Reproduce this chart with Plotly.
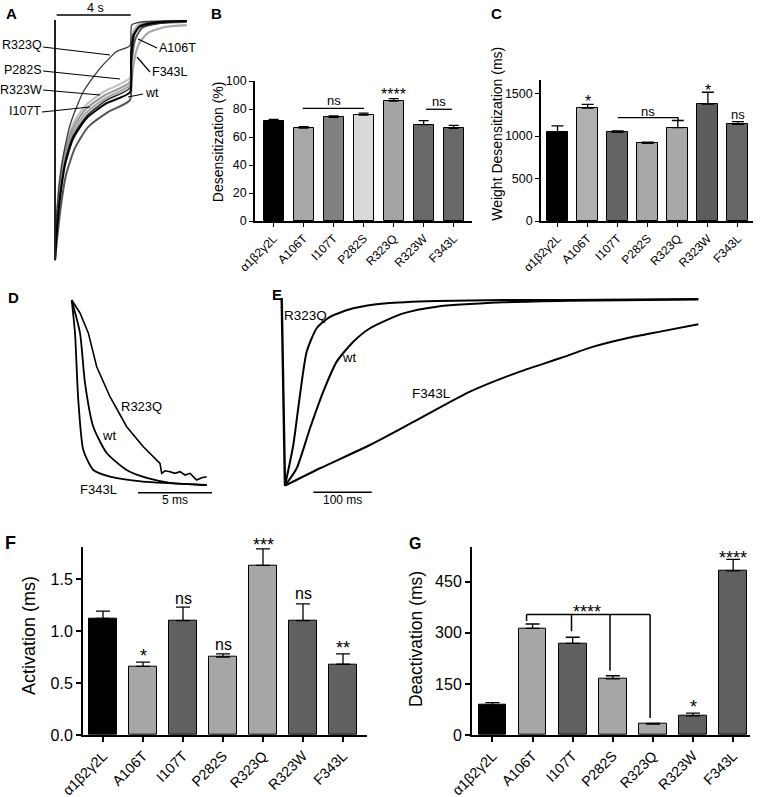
import plotly.graph_objects as go

W, H = 760, 797
FONT = "Arial, 'Liberation Sans', Helvetica, sans-serif"

# ---------------- data ----------------
mutants = ["α1β2γ2L", "A106T", "I107T", "P282S", "R323Q", "R323W", "F343L"]

desens_pct = [71.4, 66.4, 74.0, 75.7, 85.7, 68.8, 66.2]
desens_pct_sem = [1.2, 1.0, 1.0, 1.3, 1.7, 2.9, 2.1]

weight_desens_ms = [1044, 1329, 1044, 913, 1099, 1377, 1139]
weight_desens_sem = [75, 44, 16, 16, 84, 139, 32]

activation_ms = [1.12, 0.66, 1.10, 0.75, 1.63, 1.10, 0.68]
activation_sem = [0.07, 0.04, 0.13, 0.03, 0.16, 0.16, 0.10]

deactivation_ms = [88, 313, 269, 165, 32, 56, 482]
deactivation_sem = [7, 13, 18, 9, 2, 8, 34]

# panel A: desensitization traces (time s, normalized current)
A_onset_t = [0, 0]
A_onset_i = [0.004, -1]
A_t_R323Q = [0, 0.093, 0.367, 0.822, 1.551, 2.466, 3.381, 4.110, 4.203, 4.658, 7.216]
A_i_R323Q = [-1, -0.812, -0.603, -0.435, -0.296, -0.198, -0.128, -0.103, -0.017, -0.005, 0]
A_t_P282S = [0, 0.082, 0.219, 0.493, 0.932, 1.644, 2.740, 4.110, 4.164, 4.329, 4.658, 5.753, 7.216]
A_i_P282S = [-1, -0.841, -0.690, -0.552, -0.439, -0.356, -0.293, -0.238, -0.121, -0.038, -0.008, 0, 0]
A_t_R323W = [0, 0.082, 0.219, 0.493, 0.932, 1.644, 2.740, 4.110, 4.164, 4.329, 4.658, 5.753, 7.216]
A_i_R323W = [-1, -0.854, -0.707, -0.573, -0.456, -0.372, -0.310, -0.255, -0.142, -0.050, -0.017, -0.002, 0]
A_t_F343L = [0, 0.088, 0.247, 0.521, 0.959, 1.699, 2.795, 4.110, 4.274, 4.438, 4.658, 5.096, 6.027, 7.216]
A_i_F343L = [-1, -0.858, -0.715, -0.582, -0.469, -0.385, -0.322, -0.268, -0.197, -0.130, -0.088, -0.050, -0.025, -0.017]
A_t_A106T = [0, 0.093, 0.274, 0.548, 0.986, 1.737, 2.833, 4.110, 4.164, 4.274, 4.658, 5.370, 7.216]
A_i_A106T = [-1, -0.866, -0.728, -0.590, -0.481, -0.397, -0.331, -0.280, -0.121, -0.059, -0.025, -0.013, 0]
A_t_wt = [0, 0.093, 0.274, 0.548, 0.997, 1.737, 2.833, 4.110, 4.164, 4.329, 4.658, 5.753, 7.216]
A_i_wt = [-1, -0.886, -0.742, -0.602, -0.491, -0.406, -0.344, -0.298, -0.163, -0.059, -0.021, -0.004, 0]
A_t_I107T = [0, 0.110, 0.329, 0.603, 1.096, 1.808, 2.904, 4.110, 4.164, 4.384, 4.767, 5.753, 7.216]
A_i_I107T = [-1, -0.916, -0.770, -0.644, -0.531, -0.444, -0.381, -0.331, -0.205, -0.079, -0.029, -0.008, -0.004]

# panel D: activation traces (time ms, normalized current)
D_t_F343L = [0, 0.223, 0.446, 0.784, 1.459, 2.588, 4.818, 9.122]
D_i_F343L = [0, -0.178, -0.541, -0.811, -0.919, -0.955, -0.982, -1.0]
D_t_wt = [0, 0.561, 0.899, 1.459, 2.365, 3.716, 5.068, 6.642, 9.122]
D_i_wt = [0, -0.178, -0.449, -0.685, -0.827, -0.919, -0.962, -0.988, -1.0]
D_t_R323Q = [0, 0.561, 1.122, 1.689, 2.588, 3.716, 4.838, 5.966, 6.081, 6.304, 6.642, 6.980,
             7.318, 7.655, 7.993, 8.446, 8.784, 9.122]
D_i_R323Q = [0, -0.070, -0.178, -0.361, -0.523, -0.685, -0.793, -0.883, -0.937, -0.923, -0.928, -0.937,
             -0.928, -0.946, -0.937, -0.973, -0.961, -0.955]

# panel E: deactivation traces (time ms, normalized current)
E_onset_t = [0, 5.65]
E_onset_i = [0, -1]
E_t_R323Q = [5.65, 19.9, 31.3, 42.8, 59.9, 82.7, 122.6, 179.8, 265.4, 379.5, 493.7, 713.4]
E_i_R323Q = [-1, -0.783, -0.517, -0.286, -0.161, -0.100, -0.055, -0.028, -0.016, -0.011, -0.011, -0.005]
E_t_wt = [5.65, 25.7, 48.5, 71.2, 94.2, 122.6, 151.2, 208.2, 265.4, 379.5, 493.7, 713.4]
E_i_wt = [-1, -0.907, -0.694, -0.499, -0.339, -0.233, -0.161, -0.082, -0.046, -0.023, -0.014, -0.008]
E_t_F343L = [5.65, 65.6, 151.2, 236.8, 322.4, 408.0, 476.5, 533.6, 590.8, 647.8, 713.4]
E_i_F343L = [-1, -0.907, -0.783, -0.641, -0.499, -0.392, -0.321, -0.259, -0.214, -0.179, -0.140]

colors_B = ["#000000", "#a8a8a8", "#808080", "#d9d9d9", "#a4a4a4", "#686868", "#686868"]
colors_C = ["#000000", "#b0b0b0", "#646464", "#a8a8a8", "#a8a8a8", "#5c5c5c", "#666666"]
colors_FG = ["#000000", "#a6a6a6", "#606060", "#a6a6a6", "#a6a6a6", "#606060", "#606060"]


# ---------------- helpers ----------------
def PX(x):
    return x / W


def PY(y):
    return 1 - y / H


def xdom(x0, x1):
    return [x0 / W, x1 / W]


def ydom(top, bottom):
    return [1 - bottom / H, 1 - top / H]


fig = go.Figure()
annotations = []
shapes = []


def text(x, y, s, size=12, xanchor="center", yanchor="middle", angle=0, bold=False, yshift=0):
    annotations.append(dict(x=PX(x), y=PY(y), xref="paper", yref="paper", text=(f"<b>{s}</b>" if bold else s),
                            showarrow=False, xanchor=xanchor, yanchor=yanchor, textangle=angle, yshift=yshift,
                            font=dict(family=FONT, size=size, color="black")))


def pline(x0, y0, x1, y1, w=1.2):
    shapes.append(dict(type="line", xref="paper", yref="paper", x0=PX(x0), y0=PY(y0), x1=PX(x1), y1=PY(y1),
                       line=dict(color="black", width=w)))


def trace(t, i, xa, ya, color="black", width=1.8, shape="spline", smoothing=0.6):
    fig.add_trace(go.Scatter(x=t, y=i, mode="lines", xaxis=xa, yaxis=ya, showlegend=False, hoverinfo="skip",
                             line=dict(color=color, width=width, shape=shape,
                                       smoothing=smoothing if shape == "spline" else None)))


# ---------------- panel A ----------------
trace(A_t_P282S, A_i_P282S, "x", "y", "#c4c4c4", 2.2)
trace(A_t_F343L, A_i_F343L, "x", "y", "#a8a8a8", 2.2)
trace(A_t_R323W, A_i_R323W, "x", "y", "#969696", 2.0)
trace(A_t_R323Q, A_i_R323Q, "x", "y", "#3a3a3a", 1.3)
trace(A_t_I107T, A_i_I107T, "x", "y", "#555555", 2.0)
trace(A_t_A106T, A_i_A106T, "x", "y", "#2a2a2a", 1.5)
trace(A_t_wt, A_i_wt, "x", "y", "#000000", 2.0)
trace(A_onset_t, A_onset_i, "x", "y", "#222222", 2.0, shape="linear")

# ---------------- panel D ----------------
trace(D_t_F343L, D_i_F343L, "x4", "y4", "black", 1.8)
trace(D_t_wt, D_i_wt, "x4", "y4", "black", 1.8)
trace(D_t_R323Q, D_i_R323Q, "x4", "y4", "black", 1.6, shape="linear")

# ---------------- panel E ----------------
trace(E_onset_t, E_onset_i, "x5", "y5", "black", 2.4, shape="linear")
trace(E_t_R323Q, E_i_R323Q, "x5", "y5", "black", 2.0)
trace(E_t_wt, E_i_wt, "x5", "y5", "black", 2.0)
trace(E_t_F343L, E_i_F343L, "x5", "y5", "black", 2.0)


# ---------------- bar panels ----------------
def bars(vals, sem, colors, xa, ya, width, capw):
    fig.add_trace(go.Bar(x=list(range(len(vals))), y=vals, width=width, xaxis=xa, yaxis=ya, showlegend=False,
                         marker=dict(color=colors, line=dict(color="black", width=1)),
                         error_y=dict(type="data", symmetric=False, array=sem, arrayminus=[0] * len(sem),
                                      color="black", thickness=1.3, width=capw)))


bars(desens_pct, desens_pct_sem, colors_B, "x2", "y2", 0.67, 5)
bars(weight_desens_ms, weight_desens_sem, colors_C, "x3", "y3", 0.7, 6)
bars(activation_ms, activation_sem, colors_FG, "x6", "y6", 0.68, 7)
bars(deactivation_ms, deactivation_sem, colors_FG, "x7", "y7", 0.69, 7)

layout_axes = {}


def hidden(name, xd, yd, xr, yr, anchor):
    layout_axes["xaxis" + name] = dict(domain=xd, range=xr, visible=False, anchor=anchor[1], fixedrange=True)
    layout_axes["yaxis" + name] = dict(domain=yd, range=yr, visible=False, anchor=anchor[0], fixedrange=True)


hidden("", xdom(45, 195), ydom(15, 262), [-0.548, 7.671], [-1.008, 0.025], ("x", "y"))
hidden("4", xdom(60, 220), ydom(295, 500), [-0.79, 10.02], [-1.081, 0.027], ("x4", "y4"))
hidden("5", xdom(270, 705), ydom(295, 500), [-20.0, 724.8], [-1.076, 0.016], ("x5", "y5"))


def bar_axes(name, xd, yd, xr, yr, yticks, yticktext, tfx, tfy, lw, tl):
    xa, ya = "x" + name, "y" + name
    layout_axes["xaxis" + name] = dict(domain=xd, range=xr, anchor=ya, tickvals=list(range(7)), ticktext=mutants,
                                       tickangle=-45, ticks="outside", ticklen=tl, tickwidth=lw * 0.8,
                                       tickcolor="black", showline=True, linecolor="black", linewidth=lw,
                                       showgrid=False, zeroline=False, automargin=False, fixedrange=True,
                                       tickfont=dict(family=FONT, size=tfx, color="black"))
    layout_axes["yaxis" + name] = dict(domain=yd, range=yr, anchor=xa, tickvals=yticks, ticktext=yticktext,
                                       ticks="outside", ticklen=tl, tickwidth=lw * 0.8, tickcolor="black",
                                       showline=True, linecolor="black", linewidth=lw, showgrid=False,
                                       zeroline=False, automargin=False, fixedrange=True,
                                       tickfont=dict(family=FONT, size=tfy, color="black"))


F_YMAX = 1.81
bar_axes("2", xdom(255, 472), ydom(81, 221), [-0.62, 6.61], [0, 100],
         [0, 20, 40, 60, 80, 100], ["0", "20", "40", "60", "80", "100"], 12, 12.5, 1.6, 4)
bar_axes("3", xdom(541, 753), ydom(80, 221), [-0.55, 6.5], [0, 1660],
         [0, 500, 1000, 1500], ["0", "500", "1000", "1500"], 12, 12.5, 1.6, 4)
bar_axes("6", xdom(83, 367), ydom(546.7, 735), [-0.5, 6.6], [0, F_YMAX],
         [0, 0.5, 1.0, 1.5], ["0.0", "0.5", "1.0", "1.5"], 14.3, 16, 2.0, 5)
bar_axes("7", xdom(472, 750), ydom(546.7, 735), [-0.51, 6.42], [0, 553],
         [0, 150, 300, 450], ["0", "150", "300", "450"], 14.3, 16, 2.0, 5)


def sig(xa, ya, x, y, s, size, star=False):
    annotations.append(dict(x=x, y=y, xref=xa, yref=ya, text=s, showarrow=False, xanchor="center",
                            yanchor="middle", yshift=(-size * 0.22 if star else 0),
                            font=dict(family=FONT, size=size, color="black")))


def dline(xa, ya, x0, y0, x1, y1, w=1.3):
    shapes.append(dict(type="line", xref=xa, yref=ya, x0=x0, y0=y0, x1=x1, y1=y1,
                       line=dict(color="black", width=w)))


# B significance
dline("x2", "y2", 0.97, 80.5, 3.01, 80.5)
dline("x2", "y2", 5.08, 79.8, 5.94, 79.8)
sig("x2", "y2", 2.0, 86.0, "ns", 13)
sig("x2", "y2", 4.0, 93.0, "****", 16, True)
sig("x2", "y2", 5.5, 85.0, "ns", 13)

# C significance
dline("x3", "y3", 2.0, 1218, 4.01, 1218)
dline("x3", "y3", 4.01, 1218, 4.01, 1185)
sig("x3", "y3", 1.0, 1450, "*", 16, True)
sig("x3", "y3", 3.0, 1285, "ns", 13)
sig("x3", "y3", 5.0, 1575, "*", 16, True)
sig("x3", "y3", 6.0, 1255, "ns", 13)

# F significance
sig("x6", "y6", 1, 0.80, "*", 18, True)
sig("x6", "y6", 2, 1.31, "ns", 16)
sig("x6", "y6", 3, 0.87, "ns", 16)
sig("x6", "y6", 5, 1.36, "ns", 16)
sig("x6", "y6", 6, 0.87, "**", 18, True)
# R323Q stars sit just above the axis top: place in paper space from the axis scale
f_y_px = 735 - 1.86 * (735 - 546.7) / F_YMAX
f_x_px = 83 + (4 + 0.5) * (367 - 83) / 7.1
text(f_x_px, f_y_px, "***", 18, yshift=-18 * 0.22)

# G significance bracket
dline("x7", "y7", 0.85, 354, 3.93, 354, 1.5)
dline("x7", "y7", 0.85, 354, 0.85, 335, 1.5)
dline("x7", "y7", 1.97, 354, 1.97, 305, 1.5)
dline("x7", "y7", 2.93, 354, 2.93, 189, 1.5)
dline("x7", "y7", 3.93, 354, 3.93, 50, 1.5)
sig("x7", "y7", 2.35, 372, "****", 18, True)
sig("x7", "y7", 5, 95, "*", 18, True)
sig("x7", "y7", 6, 531, "****", 18, True)

# axis titles
text(217.5, 141.7, "Desensitization (%)", 14, angle=-90)
text(497.5, 133.3, "Weight Desensitization (ms)", 14, angle=-90)
text(29, 636, "Activation (ms)", 18, angle=-90)
text(416, 639, "Deactivation (ms)", 17.5, angle=-90)

# panel letters
text(11.7, 13.8, "A", 15, bold=True)
text(216.7, 13.3, "B", 15, bold=True)
text(496.7, 13.3, "C", 15, bold=True)
text(13, 297, "D", 15, bold=True)
text(277, 294, "E", 15, bold=True)
text(10, 543, "F", 18, bold=True)
text(414.7, 543, "G", 16, bold=True)

# panel A scale bar and labels
pline(56.7, 15, 130.7, 15, 1.5)
text(95, 8, "4 s", 12.5)
text(44, 45, "R323Q", 12.5, xanchor="right")
pline(43, 47, 110, 55)
text(44, 70, "P282S", 12.5, xanchor="right")
pline(43, 71, 120, 79)
text(44, 90, "R323W", 12.5, xanchor="right")
pline(43, 90, 100, 95)
text(43, 111, "I107T", 12.5, xanchor="right")
pline(42, 112, 90, 107)
text(143, 93, "wt", 12.5, xanchor="left")
pline(128, 97, 143, 94)
text(157, 48, "A106T", 12.5, xanchor="left")
pline(138, 39, 157, 48)
text(150, 72, "F343L", 12.5, xanchor="left")
pline(137, 57, 150, 72)

# panel D labels and scale bar
text(141, 407, "R323Q", 13)
text(109, 435, "wt", 13)
text(98, 490, "F343L", 13)
pline(138, 492.7, 212, 492.7, 1.5)
text(175, 500, "5 ms", 12)

# panel E labels and scale bar
text(305, 315, "R323Q", 13.5)
text(349, 358, "wt", 13)
text(431, 393, "F343L", 13.5)
pline(313.3, 492.3, 371.7, 492.3, 1.5)
text(342.5, 500, "100 ms", 12)

fig.update_layout(width=W, height=H, margin=dict(l=0, r=0, t=0, b=0), plot_bgcolor="white",
                  paper_bgcolor="white", showlegend=False, bargap=0, annotations=annotations, shapes=shapes,
                  font=dict(family=FONT, color="black"), **layout_axes)

fig.write_html("out.html", config={"displayModeBar": False},
               post_script="document.body.style.margin='0px';document.body.style.overflow='hidden';")
